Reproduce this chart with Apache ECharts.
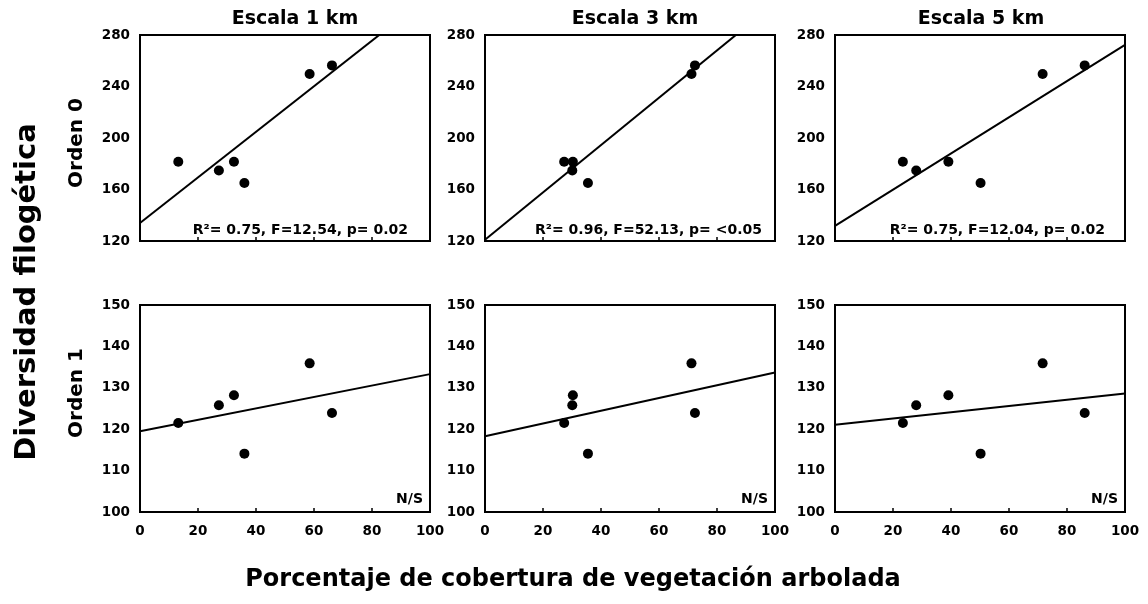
<!DOCTYPE html>
<html>
<head>
<meta charset="utf-8">
<script src="https://cdn.jsdelivr.net/npm/echarts@6/dist/echarts.min.js"></script>
<style>
  html, body { margin: 0; padding: 0; background: #fff; }
  #chart { width: 1148px; height: 604px; }
</style>
</head>
<body>
<div id="chart"></div>
<script>
// Porcentaje de cobertura arbolada por sitio, a cada escala
const cobertura1km = [13.2, 27.2, 32.4, 36.0, 58.5, 66.2];
const cobertura3km = [27.3, 30.1, 30.3, 35.5, 71.2, 72.4];
const cobertura5km = [23.4, 28.0, 39.1, 50.2, 71.6, 86.1];

// Diversidad filogenética por sitio (mismo orden de sitios)
const orden0 = [181.5, 174.7, 181.5, 165.1, 249.7, 256.4];
const orden1 = [121.5, 125.8, 128.2, 114.1, 135.9, 123.9];

// Recta ajustada: valor en x = 0 y en x = 100, por escala (1, 3, 5 km)
const ajusteOrden0 = [[134.0, 311.0], [121.0, 304.8], [131.7, 272.3]];
const ajusteOrden1 = [[119.5, 133.3], [118.3, 133.7], [121.1, 128.6]];

const escalas = ['Escala 1 km', 'Escala 3 km', 'Escala 5 km'];
const estadisticos = [
  'R²= 0.75, F=12.54, p= 0.02',
  'R²= 0.96, F=52.13, p= <0.05',
  'R²= 0.75, F=12.04, p= 0.02'
];
const noSignificativo = 'N/S';
const filas = ['Orden 0', 'Orden 1'];
const tituloY = 'Diversidad filogética';
const tituloX = 'Porcentaje de cobertura de vegetación arbolada';

const xTicks = { min: 0, max: 100, interval: 20 };
const yTicksOrden0 = { min: 120, max: 280, interval: 40 };
const yTicksOrden1 = { min: 100, max: 150, interval: 10 };

const FONT = '"DejaVu Sans", "Liberation Sans", Arial, sans-serif';
const coberturas = [cobertura1km, cobertura3km, cobertura5km];
const panelLeft = [140, 485, 835];
const panelW = 290;
const rowTop = [35, 305];
const rowH = [206, 207];

const grids = [], xAxes = [], yAxes = [], series = [];

function pares(xs, ys) { return xs.map((x, i) => [x, ys[i]]); }

for (let r = 0; r < 2; r++) {
  for (let c = 0; c < 3; c++) {
    const idx = r * 3 + c;
    grids.push({
      left: panelLeft[c], top: rowTop[r], width: panelW, height: rowH[r],
      show: true, borderColor: '#000', borderWidth: 2, backgroundColor: 'transparent'
    });
    xAxes.push({
      type: 'value', gridIndex: idx,
      min: xTicks.min, max: xTicks.max, interval: xTicks.interval,
      axisLine: { show: false },
      axisTick: { show: true, inside: true, length: 4, lineStyle: { color: '#000', width: 1.5 } },
      splitLine: { show: false },
      axisLabel: {
        show: r === 1, margin: 12, color: '#000',
        fontFamily: FONT, fontWeight: 'bold', fontSize: 13.5
      }
    });
    const yt = r === 0 ? yTicksOrden0 : yTicksOrden1;
    yAxes.push({
      type: 'value', gridIndex: idx,
      min: yt.min, max: yt.max, interval: yt.interval,
      axisLine: { show: false },
      axisTick: { show: false },
      splitLine: { show: false },
      axisLabel: {
        margin: 10, color: '#000',
        fontFamily: FONT, fontWeight: 'bold', fontSize: 13.5
      }
    });
    const ys = r === 0 ? orden0 : orden1;
    const fit = r === 0 ? ajusteOrden0[c] : ajusteOrden1[c];
    series.push({
      type: 'line', xAxisIndex: idx, yAxisIndex: idx,
      data: [[xTicks.min, fit[0]], [xTicks.max, fit[1]]],
      showSymbol: false, symbol: 'none', clip: true, silent: true,
      lineStyle: { color: '#000', width: 2 }, z: 2
    });
    series.push({
      type: 'scatter', xAxisIndex: idx, yAxisIndex: idx,
      data: pares(coberturas[c], ys),
      symbol: 'circle', symbolSize: 10,
      itemStyle: { color: '#000', opacity: 1 }, z: 3
    });
  }
}

const graphics = [];
const tituloX0 = [295, 635, 981];
for (let c = 0; c < 3; c++) {
  graphics.push({
    type: 'text', x: tituloX0[c], y: 19,
    style: { text: escalas[c], font: 'bold 19px ' + FONT, fill: '#000', align: 'center', verticalAlign: 'middle' }
  });
  const right = panelLeft[c] + panelW;
  graphics.push({
    type: 'text', x: right - [22, 13, 20][c], y: 230,
    style: { text: estadisticos[c], font: 'bold 14px ' + FONT, fill: '#000', align: 'right', verticalAlign: 'middle' }
  });
  graphics.push({
    type: 'text', x: right - 7, y: 499,
    style: { text: noSignificativo, font: 'bold 14px ' + FONT, fill: '#000', align: 'right', verticalAlign: 'middle' }
  });
}
graphics.push({
  type: 'text', x: 77, y: 143, rotation: Math.PI / 2,
  style: { text: filas[0], font: 'bold 20px ' + FONT, fill: '#000', align: 'center', verticalAlign: 'middle' }
});
graphics.push({
  type: 'text', x: 77, y: 393, rotation: Math.PI / 2,
  style: { text: filas[1], font: 'bold 20px ' + FONT, fill: '#000', align: 'center', verticalAlign: 'middle' }
});
graphics.push({
  type: 'text', x: 27, y: 292, rotation: Math.PI / 2,
  style: { text: tituloY, font: 'bold 29px ' + FONT, fill: '#000', align: 'center', verticalAlign: 'middle' }
});
graphics.push({
  type: 'text', x: 573, y: 580,
  style: { text: tituloX, font: 'bold 24px ' + FONT, fill: '#000', align: 'center', verticalAlign: 'middle' }
});

const chart = echarts.init(document.getElementById('chart'), null, { renderer: 'canvas' });
chart.setOption({
  backgroundColor: '#fff',
  animation: false,
  grid: grids,
  xAxis: xAxes,
  yAxis: yAxes,
  series: series,
  graphic: graphics
});
</script>
</body>
</html>
